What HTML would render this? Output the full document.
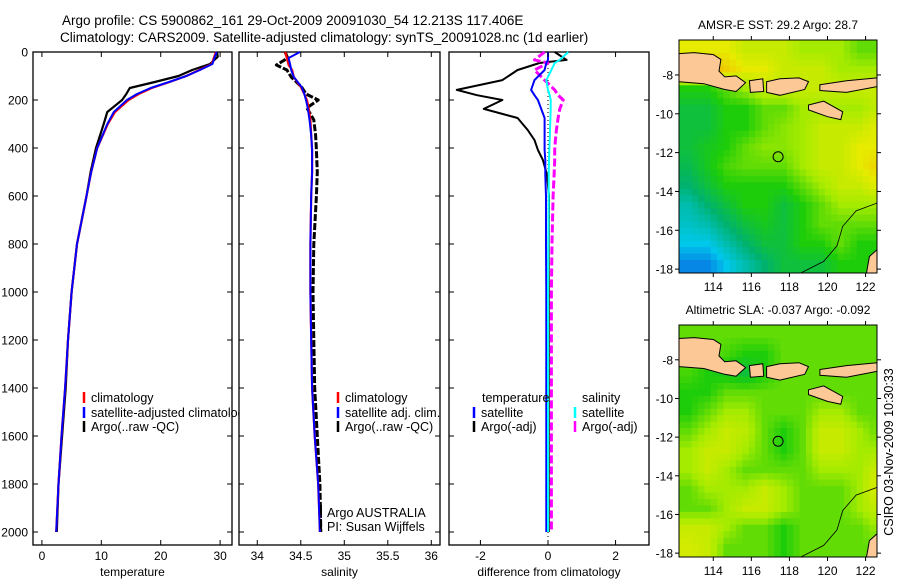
<!DOCTYPE html>
<html><head><meta charset="utf-8">
<style>
html,body{margin:0;padding:0;background:#fff;}
svg{display:block;font-family:"Liberation Sans",sans-serif;}
text{fill:#000;}
</style></head>
<body>
<svg id="fig" width="900" height="580" viewBox="0 0 900 580" xmlns="http://www.w3.org/2000/svg">
<text x="62" y="25" font-size="13.5">Argo profile: CS 5900862_161 29-Oct-2009 20091030_54 12.213S 117.406E</text>
<text x="60" y="42" font-size="13.5">Climatology: CARS2009. Satellite-adjusted climatology: synTS_20091028.nc (1d earlier)</text>
<g id="plots"></g>
<text transform="translate(893,452) rotate(-90)" font-size="12.5" text-anchor="middle">CSIRO 03-Nov-2009 10:30:33</text>
</svg>
<script>
// ---------- DATA ----------
const depthTicks = [0,200,400,600,800,1000,1200,1400,1600,1800,2000];
const tempTicks = [0,10,20,30];
const salTicks = [34,34.5,35,35.5,36];
const salTickLabels = ["34","34.5","35","35.5","36"];
const diffTicks = [-2,0,2];

const tDepth = [0,20,50,75,100,125,150,175,200,250,300,400,500,600,800,1000,1200,1400,1600,1800,2000];
const tempClim = [29.3,29.0,28.6,26.5,24.3,21.5,18.5,16.3,14.6,12.3,11.1,9.3,8.3,7.5,5.9,5.0,4.4,3.9,3.3,2.8,2.4];
const tempSat  = [29.4,29.1,28.7,26.6,24.3,21.4,18.3,16.0,14.3,12.1,11.0,9.3,8.3,7.5,5.9,5.0,4.4,3.9,3.3,2.8,2.4];
const tempArgo = [29.5,29.6,28.3,25.3,23.0,19.0,14.8,14.2,13.5,11.0,10.4,9.1,8.2,7.5,5.9,5.0,4.4,4.0,3.4,2.8,2.5];

const sDepth = [0,25,54,75,104,146,175,200,233,283,346,408,500,600,800,1000,1200,1400,1600,1800,2000];
const salClim = [34.32,34.34,34.36,34.40,34.42,34.50,34.54,34.57,34.59,34.61,34.62,34.63,34.63,34.62,34.61,34.61,34.62,34.63,34.66,34.70,34.72];
const salSat  = [34.49,34.36,34.38,34.39,34.42,34.51,34.54,34.56,34.58,34.60,34.62,34.63,34.63,34.62,34.61,34.61,34.62,34.63,34.66,34.70,34.72];
const salArgo = [34.32,34.35,34.22,34.34,34.39,34.51,34.56,34.70,34.57,34.65,34.67,34.68,34.69,34.68,34.65,34.64,34.65,34.66,34.69,34.72,34.73];

const dDepth = [0,33,46,75,117,158,180,200,237,275,325,367,408,450,512,600,800,1000,1400,2000];
const diffTempSat  = [0.0,0.0,-0.05,-0.1,-0.4,-0.5,-0.4,-0.3,-0.2,-0.1,-0.1,-0.1,-0.1,-0.08,-0.08,-0.06,-0.06,-0.05,-0.05,-0.05];
const diffTempArgo = [0.2,0.55,-0.25,-0.9,-1.35,-2.7,-2.1,-1.35,-1.9,-0.9,-0.6,-0.4,-0.3,-0.15,-0.03,0.03,0.02,0.02,0.02,0.02];
const diffSalSat   = [0.6,0.35,0.2,0.1,-0.05,0.0,0.05,0.08,0.08,0.07,0.06,0.05,0.04,0.03,0.02,0.02,0.01,0.0,0.0,0.0];
const diffSalArgo  = [-0.1,-0.4,0.0,-0.4,-0.1,0.2,0.3,0.45,0.35,0.3,0.25,0.22,0.2,0.2,0.18,0.15,0.12,0.1,0.1,0.1];

const mapLonTicks = [114,116,118,120,122];
const mapLatTicks = [-8,-10,-12,-14,-16,-18];
const sstGrid = [
 [5,5,5,4.5,4.5,4.5,4,4,4,3.5,3.5],
 [6,6,5.5,5,5,4.5,4.5,4.5,4,4,4],
 [3,3,3.5,4,4.5,4.5,4.5,4.5,4.5,4.5,4.5],
 [2.5,2.5,3,3,3.5,3.5,4,4,4,4,4.5],
 [2.5,2.5,3,3,3.5,3.8,4,4.5,4.5,4.5,5],
 [2.5,2.8,3,3.5,3.8,3.8,4,4.5,4.5,5,5],
 [2.3,2.8,3.3,3.5,3.5,3.5,4,4.5,4.5,5,5.5],
 [2,2.5,3,3,3,3,3.5,4,4.5,4.5,5],
 [1.5,2,2.5,3,3,2.5,3,3.5,4,4,4],
 [1.3,1.5,2,2.5,2.8,2.5,3,3.5,3.5,3.5,3.5],
 [1,1,1.5,2,2.5,2.5,3,3,3.5,3,3],
 [0.4,0.4,1,1.5,2,2.5,2.5,2.5,3,3,3]
];
const slaGrid = [
 [3.5,3.5,3.5,3.5,3.5,3.5,3.5,3.5,3.5,3.5,3.5],
 [3.5,3.5,3.3,3,3,3.5,3.5,3.5,3.5,3.5,3.5],
 [3.3,3,2.8,2.5,3,3.5,3.5,3.5,3.5,3.5,3.5],
 [3,3,3.5,3.5,3.5,3.5,3.5,3.5,3.5,3.5,3.5],
 [3,3.5,4,4,3.5,3.5,3.5,4,4,3.5,3.5],
 [3.5,4,4.5,4.3,3.5,3,3.5,4.5,4.5,4,3.5],
 [4,4.5,4.5,4,3.5,3,3.5,4.5,4.5,4,4],
 [4,4.5,4,3.5,3.5,3.5,3.5,4,4,4,4.7],
 [3.5,4,4,4,4.5,4,3.5,3.5,3.5,4,5],
 [3.5,3.5,4,4.5,4.5,4,3.5,3.5,3.5,4,4.5],
 [4.5,4.5,4,3.5,3.5,3,3.5,3.5,3.5,3.5,4],
 [4.7,4.5,3.5,3.5,3.5,3,3.5,3.5,3.5,3.5,3.5]
];
const argoLon = 117.406, argoLat = -12.213;

// ---------- DRAWING ----------
const NS = "http://www.w3.org/2000/svg";
const root = document.getElementById('plots');
function mk(tag, attrs, parent){
  const e = document.createElementNS(NS, tag);
  for (const k in attrs) e.setAttribute(k, attrs[k]);
  (parent||root).appendChild(e);
  return e;
}
function txt(x,y,s,size,anchor,parent){
  const t = mk('text',{x:x,y:y,'font-size':size,'text-anchor':anchor||'start'},parent);
  t.textContent = s;
  return t;
}
const top0 = 52, bot0 = 545;
const yD = d => 52 + d*0.24;

function panel(name, x0, x1, xmin, xmax){
  const g = mk('g',{});
  
  
  const bg = mk('rect',{x:x0,y:top0,width:x1-x0,height:bot0-top0,fill:'#fff',stroke:'#000','stroke-width':1.3},g);
  
  
  return {g, x0, x1, sx: v => x0 + (v-xmin)/(xmax-xmin)*(x1-x0)};
}
function axes(p, xticks, xlabels, title, leftLabels){
  for (let i=0;i<xticks.length;i++){
    const x = p.sx(xticks[i]);
    mk('line',{x1:x,x2:x,y1:top0,y2:top0+5,stroke:'#000'},p.g);
    mk('line',{x1:x,x2:x,y1:bot0,y2:bot0-5,stroke:'#000'},p.g);
    const t = txt(x,560,xlabels[i],12,'middle',p.g);
    
    
  }
  for (const d of depthTicks){
    const y = yD(d);
    mk('line',{x1:p.x0,x2:p.x0+5,y1:y,y2:y,stroke:'#000'},p.g);
    mk('line',{x1:p.x1,x2:p.x1-5,y1:y,y2:y,stroke:'#000'},p.g);
    if (leftLabels){
      const t = txt(28,y+4.5,String(d),12,'end',p.g);
      
      
    }
  }
  const at = txt((p.x0+p.x1)/2,576,title,12,'middle',p.g);
  
  
}
function series(p, xs, ds, color, width, name, dash){
  const pts = xs.map((v,i)=>p.sx(v).toFixed(1)+','+yD(ds[i]).toFixed(1)).join(' ');
  const l = mk('polyline',{points:pts,fill:'none',stroke:color,'stroke-width':width,'stroke-linejoin':'round'},p.g);
  if (dash) l.setAttribute('stroke-dasharray', dash);
  
  
}
function legend(p, x, y, color, label, name){
  mk('line',{x1:x,x2:x,y1:y-10,y2:y+1,stroke:color,'stroke-width':2.5},p.g);
  const t = txt(x+7,y,label,12.5,'start',p.g);
  
  
}

const p1 = panel('temperature-panel', 33, 232, -1.5, 32);
series(p1, tempArgo, tDepth, '#000', 2.2, 'argo-temperature-line');
series(p1, tempClim, tDepth, '#f00', 2.2, 'climatology-temperature-line');
series(p1, tempSat, tDepth, '#00f', 2, 'satellite-temperature-line');
axes(p1, tempTicks, tempTicks.map(String), 'temperature', true);
legend(p1, 84, 402, '#f00', 'climatology', 'legend-climatology');
legend(p1, 84, 417, '#00f', 'satellite-adjusted climatology', 'legend-satellite-adjusted');
legend(p1, 84, 431, '#000', 'Argo(..raw -QC)', 'legend-argo');

const p2 = panel('salinity-panel', 239, 440, 33.79, 36.1);
series(p2, salArgo, sDepth, '#000', 3, 'argo-salinity-line', '7,2');
series(p2, salClim, sDepth, '#f00', 2.2, 'climatology-salinity-line');
series(p2, salSat, sDepth, '#00f', 2, 'satellite-salinity-line');
axes(p2, salTicks, salTickLabels, 'salinity', false);
legend(p2, 338, 402, '#f00', 'climatology', 'legend-climatology-sal');
legend(p2, 338, 417, '#00f', 'satellite adj. clim.', 'legend-satellite-sal');
legend(p2, 338, 431, '#000', 'Argo(..raw -QC)', 'legend-argo-sal');
mk('line',{x1:321,x2:321,y1:505,y2:515,stroke:'#000','stroke-width':2},p2.g);
mk('line',{x1:321,x2:321,y1:519,y2:529,stroke:'#000','stroke-width':2},p2.g);
let t = txt(327,517,'Argo AUSTRALIA',12.5,'start',p2.g);
 
t = txt(327,531,'PI: Susan Wijffels',12.5,'start',p2.g);
 

const p3 = panel('difference-panel', 449, 649, -2.93, 2.99);
mk('line',{x1:p3.sx(0),x2:p3.sx(0),y1:top0,y2:bot0,stroke:'#000','stroke-dasharray':'1,3'},p3.g);
series(p3, diffTempArgo, dDepth, '#000', 2, 'argo-temperature-diff-line');
series(p3, diffSalArgo, dDepth, '#f0f', 3, 'argo-salinity-diff-line', '8,3');
series(p3, diffTempSat, dDepth, '#00f', 2, 'satellite-temperature-diff-line');
series(p3, diffSalSat, dDepth, '#0ff', 2, 'satellite-salinity-diff-line');
axes(p3, diffTicks, diffTicks.map(String), 'difference from climatology', false);
t = txt(482,402,'temperature',12.5,'start',p3.g);
 
t = txt(582,402,'salinity',12.5,'start',p3.g);
 
legend(p3, 474, 417, '#00f', 'satellite', 'legend-temp-satellite');
legend(p3, 474, 431, '#000', 'Argo(-adj)', 'legend-temp-argo');
legend(p3, 575, 417, '#0ff', 'satellite', 'legend-sal-satellite');
legend(p3, 575, 431, '#f0f', 'Argo(-adj)', 'legend-sal-argo');

// ---------- MAPS ----------
const cstops = [[0,[10,90,225]],[1,[0,200,235]],[2,[0,178,110]],[3,[30,205,10]],[4,[165,235,0]],[5,[230,235,0]],[6,[245,180,0]],[7,[195,55,0]]];
function cmap(v){
  v = Math.max(0,Math.min(7,v));
  for (let i=0;i<cstops.length-1;i++){
    const [a,ca]=cstops[i],[b,cb]=cstops[i+1];
    if (v<=b){const f=(v-a)/(b-a);return 'rgb('+ca.map((c,j)=>Math.round(c+(cb[j]-c)*f)).join(',')+')';}
  }
  return 'rgb(195,55,0)';
}
const lonMin=112.2, lonMax=122.6, latTop=-6.2, latBot=-18.2;
const land = [
 [[112.2,-6.9],[113.0,-6.85],[114.0,-6.95],[114.4,-7.2],[114.3,-7.8],[114.6,-8.1],[115.2,-8.05],[115.7,-8.4],[115.2,-8.85],[114.6,-8.75],[113.5,-8.45],[112.2,-8.35]],
 [[115.9,-8.3],[116.6,-8.2],[116.65,-8.85],[115.95,-8.9]],
 [[116.8,-8.35],[117.5,-8.2],[118.5,-8.15],[119.0,-8.35],[118.8,-8.75],[117.5,-9.05],[116.8,-8.9]],
 [[119.6,-8.5],[121.0,-8.3],[122.6,-8.15],[122.6,-8.6],[121.0,-8.9],[119.6,-8.8]],
 [[119.0,-9.55],[119.8,-9.35],[120.8,-9.9],[120.7,-10.3],[120.0,-10.15],[119.0,-9.8]],
 [[122.6,-17.0],[122.2,-17.35],[122.05,-18.2],[122.6,-18.2]]
];
const contour = [[122.6,-14.6],[121.5,-15.0],[120.8,-15.8],[120.5,-16.8],[119.8,-17.6],[118.6,-18.2]];
function drawMap(name, x0, x1, y0, y1, grid, title){
  const g = mk('g',{});
  
  
  const lx = v => x0 + (v-lonMin)/(lonMax-lonMin)*(x1-x0);
  const ly = v => y0 + (latTop-v)/(latTop-latBot)*(y1-y0);
  const clipId = name+'-clip';
  const cp = mk('clipPath',{id:clipId},g);
  mk('rect',{x:x0,y:y0,width:x1-x0,height:y1-y0},cp);
  const field = mk('g',{'clip-path':'url(#'+clipId+')'},g);
  
  
  const R = grid.length, C = grid[0].length, sub = 3;
  for (let r=0;r<R*sub;r++){
    for (let c=0;c<C*sub;c++){
      const fr = Math.min(R-1,Math.max(0,(r+0.5)/sub-0.5)), fc = Math.min(C-1,Math.max(0,(c+0.5)/sub-0.5));
      const r0=Math.floor(fr), c0=Math.floor(fc), r1=Math.min(R-1,r0+1), c1=Math.min(C-1,c0+1);
      const a=fr-r0, b=fc-c0;
      const v = grid[r0][c0]*(1-a)*(1-b)+grid[r0][c1]*(1-a)*b+grid[r1][c0]*a*(1-b)+grid[r1][c1]*a*b;
      const la0 = latTop - r/sub, lo0 = lonMin + c/sub;
      const cell = mk('rect',{x:lx(lo0).toFixed(2),y:ly(la0).toFixed(2),width:((x1-x0)/(lonMax-lonMin)/sub+0.6).toFixed(2),height:((y1-y0)/(latTop-latBot)/sub+0.6).toFixed(2),fill:cmap(v)},field);
      
      
    }
  }
  for (const poly of land){
    const pl = mk('polygon',{points:poly.map(p=>lx(p[0]).toFixed(1)+','+ly(p[1]).toFixed(1)).join(' '),fill:'#fbc896',stroke:'#000','stroke-width':1},field);
    
    
  }
  const cl = mk('polyline',{points:contour.map(p=>lx(p[0]).toFixed(1)+','+ly(p[1]).toFixed(1)).join(' '),fill:'none',stroke:'#000','stroke-width':0.8},field);
  
  
  const ci = mk('circle',{cx:lx(argoLon),cy:ly(argoLat),r:5,fill:'none',stroke:'#000','stroke-width':1},g);
  
  
  mk('rect',{x:x0,y:y0,width:x1-x0,height:y1-y0,fill:'none',stroke:'#000','stroke-width':1},g);
  for (const lo of mapLonTicks){
    const x = lx(lo);
    mk('line',{x1:x,x2:x,y1:y0,y2:y0-4,stroke:'#000'},g);
    mk('line',{x1:x,x2:x,y1:y1,y2:y1+4,stroke:'#000'},g);
    const tl = txt(x,y1+18,String(lo),12,'middle',g);
    
    
  }
  for (const la of mapLatTicks){
    const y = ly(la);
    mk('line',{x1:x0,x2:x0-4,y1:y,y2:y,stroke:'#000'},g);
    mk('line',{x1:x1,x2:x1+4,y1:y,y2:y,stroke:'#000'},g);
    const tl = txt(x0-6,y+4.5,String(la),12,'end',g);
    
    
  }
  const tt = txt((x0+x1)/2,y0-11,title,12,'middle',g);
  
  
}
drawMap('sst-map', 679, 877, 40, 273, sstGrid, 'AMSR-E SST: 29.2 Argo: 28.7');
drawMap('sla-map', 679, 877, 325, 557, slaGrid, 'Altimetric SLA: -0.037 Argo: -0.092');
</script>
</body></html>
